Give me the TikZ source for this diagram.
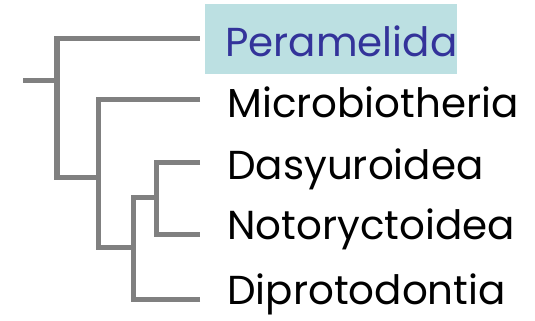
\documentclass[tikz,border=0pt]{standalone}
\usepackage{fontspec}
\setmainfont{Poppins}
\usepackage{tikz}
\definecolor{boxcol}{RGB}{188,224,226}
\definecolor{percol}{RGB}{51,51,154}
\definecolor{treecol}{RGB}{128,128,128}
\tikzset{
  branch/.style={draw=treecol, line width=0.1cm},
  taxon/.style={anchor=base west, inner sep=0pt, font=\fontsize{23}{27}\selectfont},
  hilite/.style={anchor=base west, fill=boxcol, text=percol, inner xsep=0.4cm, inner ysep=0pt,
    text width=4.24cm, align=left, text height=1.06cm, text depth=0.34cm, font=\fontsize{23}{27}\selectfont}
}
\begin{document}
\begin{tikzpicture}
  \useasboundingbox (0,0) rectangle (10.7,6.42);
  % taxa
  \node [hilite] (per) at (4.1,5.28) {Peramelida};
  \node [taxon] (mic) at (4.54,4.06) {Microbiotheria};
  \node [taxon] (das) at (4.54,2.82) {Dasyuroidea};
  \node [taxon] (not) at (4.54,1.62) {Notoryctoidea};
  \node [taxon] (dip) at (4.54,0.32) {Diprotodontia};
  % branch ends and splits
  \coordinate (tPer) at (4,5.64);
  \coordinate (tMic) at (4,4.42);
  \coordinate (tDas) at (4,3.16);
  \coordinate (tNot) at (4,1.72);
  \coordinate (tDip) at (4,0.42);
  \coordinate (root) at (0.46,4.8);
  \coordinate (a) at (1.14,4.8);
  \coordinate (b) at (1.96,2.86);
  \coordinate (c) at (2.66,1.46);
  \coordinate (d) at (3.12,2.46);
  \draw [branch] (root) -- (a);
  \draw [branch] (tPer) -| (a) |- (b);
  \draw [branch] (tMic) -| (b) |- (c);
  \draw [branch] (tDip) -| (c) |- (d);
  \draw [branch] (tDas) -| (d) |- (tNot);
\end{tikzpicture}
\end{document}
